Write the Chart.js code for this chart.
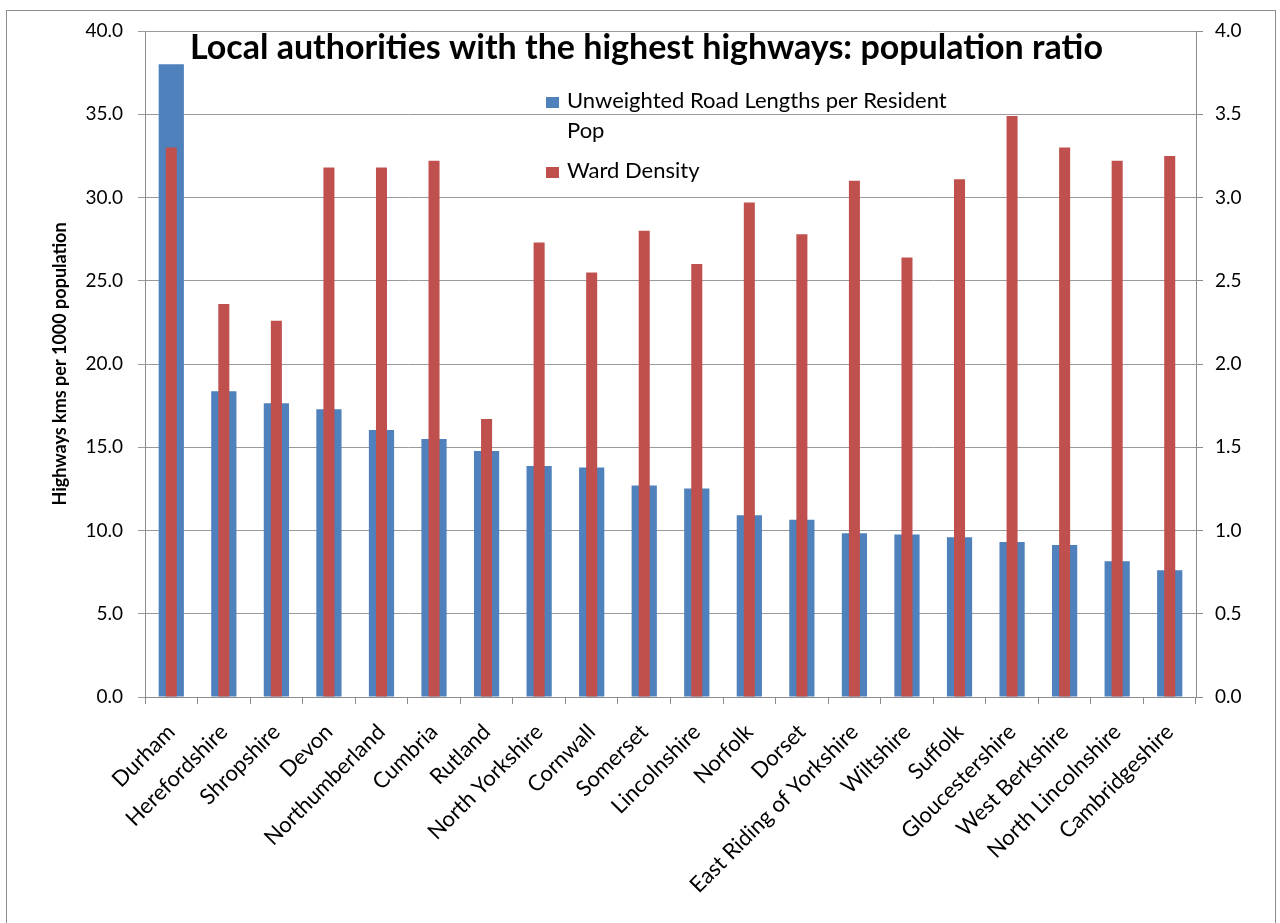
<!DOCTYPE html>
<html>
<head>
<meta charset="utf-8">
<title>Local authorities with the highest highways: population ratio</title>
<script src="https://cdn.jsdelivr.net/npm/chart.js@4"></script>
<style>
  html, body { margin: 0; padding: 0; background: #fff; overflow: hidden; width: 1280px; height: 923px; }
  #frame { position: absolute; left: 6px; top: 10px; width: 1270px; height: 960px; border: 1px solid #8c8c8c; box-sizing: border-box; }
  #wrap { position: absolute; left: 0; top: 0; width: 1280px; height: 923px; }
</style>
</head>
<body>
<div id="frame"></div>
<div id="wrap"><canvas id="chart"></canvas></div>
<script>
const titleText = 'Local authorities with the highest highways: population ratio';

const authorities = ['Durham', 'Herefordshire', 'Shropshire', 'Devon', 'Northumberland', 'Cumbria',
    'Rutland', 'North Yorkshire', 'Cornwall', 'Somerset', 'Lincolnshire', 'Norfolk', 'Dorset',
    'East Riding of Yorkshire', 'Wiltshire', 'Suffolk', 'Gloucestershire', 'West Berkshire',
    'North Lincolnshire', 'Cambridgeshire'];

// left axis: kms per 1000 population
const roadLengths = [38.0, 18.36, 17.64, 17.28, 16.04, 15.5, 14.77, 13.87, 13.79, 12.71,
    12.53, 10.91, 10.65, 9.83, 9.76, 9.59, 9.31, 9.13, 8.15, 7.61];

// right axis
const wardDensity = [3.30, 2.36, 2.26, 3.18, 3.18, 3.22, 1.67, 2.73, 2.55, 2.80,
    2.60, 2.97, 2.78, 3.10, 2.64, 3.11, 3.49, 3.30, 3.22, 3.25];

const leftTicks = [0, 5, 10, 15, 20, 25, 30, 35, 40];
const rightTicks = [0, 0.5, 1, 1.5, 2, 2.5, 3, 3.5, 4];

Chart.defaults.font.family = 'Lato';
Chart.defaults.color = '#000';

function wrapText(ctx, text, maxWidth) {
    const words = text.split(' ');
    const lines = [];
    let line = '';
    words.forEach(w => {
        const test = line ? line + ' ' + w : w;
        if (ctx.measureText(test).width > maxWidth && line) {
            lines.push(line);
            line = w;
        } else {
            line = test;
        }
    });
    lines.push(line);
    return lines;
}

// title and legend sit inside the plot area, so draw them ourselves
const overlayText = {
    id: 'overlayText',
    afterDraw(chart) {
        const ctx = chart.ctx;
        const area = chart.chartArea;
        ctx.save();
        ctx.textBaseline = 'alphabetic';
        ctx.textAlign = 'left';
        ctx.fillStyle = '#000';
        ctx.font = 'bold 34px Lato';
        ctx.fillText(titleText, area.left + 45, area.top + 28);

        ctx.font = '22px Lato';
        let y = area.top + 77;
        chart.data.datasets.forEach(ds => {
            const lines = wrapText(ctx, ds.label, 400);
            ctx.fillStyle = ds.backgroundColor;
            ctx.fillRect(area.left + 401, y - 11, 13, 11);
            ctx.fillStyle = '#000';
            lines.forEach((l, i) => ctx.fillText(l, area.left + 422, y + i * 30));
            y += lines.length * 30 + 10;
        });
        ctx.restore();
    }
};

const ctx = document.getElementById('chart').getContext('2d');

new Chart(ctx, {
    type: 'bar',
    data: {
        labels: authorities,
        datasets: [{
            label: 'Unweighted Road Lengths per Resident Pop',
            data: roadLengths,
            backgroundColor: '#4F81BD',
            yAxisID: 'y',
            grouped: false,
            order: 1,
            barPercentage: 0.48,
            categoryPercentage: 1
        }, {
            label: 'Ward Density',
            data: wardDensity,
            backgroundColor: '#C0504D',
            yAxisID: 'y1',
            grouped: false,
            order: 0,
            barPercentage: 0.21,
            categoryPercentage: 1
        }]
    },
    options: {
        responsive: true,
        maintainAspectRatio: false,
        animation: false,
        layout: { padding: { top: 31, left: 0, right: 0, bottom: 0 } },
        plugins: {
            legend: { display: false },
            title: { display: false },
            tooltip: { enabled: false }
        },
        scales: {
            x: {
                grid: { drawOnChartArea: false, offset: true, tickLength: 7, color: '#8c8c8c' },
                border: { color: '#8c8c8c' },
                ticks: { autoSkip: false, maxRotation: 45, minRotation: 45, padding: 15, font: { size: 22 } },
                afterFit: s => { s.height = 226; }
            },
            y: {
                position: 'left',
                min: 0,
                max: 40,
                afterBuildTicks: s => { s.ticks = leftTicks.map(v => ({ value: v })); },
                ticks: { padding: 15, font: { size: 19 }, callback: v => Number(v).toFixed(1) },
                grid: { color: '#9a9a9a', tickLength: 7 },
                border: { color: '#8c8c8c' },
                title: {
                    display: true,
                    text: 'Highways kms per 1000 population',
                    font: { size: 18, weight: 'bold' },
                    padding: { top: 49, bottom: 0 }
                },
                afterFit: s => { s.width = 145; }
            },
            y1: {
                position: 'right',
                min: 0,
                max: 4,
                afterBuildTicks: s => { s.ticks = rightTicks.map(v => ({ value: v })); },
                ticks: { padding: 12, font: { size: 19 }, callback: v => Number(v).toFixed(1) },
                grid: { drawOnChartArea: false, tickLength: 7, color: '#8c8c8c' },
                border: { color: '#8c8c8c' },
                afterFit: s => { s.width = 84; }
            }
        }
    },
    plugins: [overlayText]
});
</script>
</body>
</html>
